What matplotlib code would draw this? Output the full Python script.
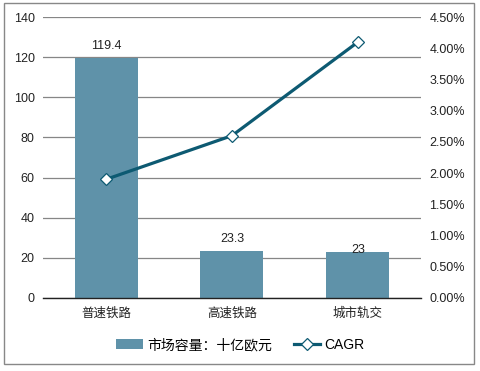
import matplotlib
matplotlib.use("Agg")
import matplotlib.pyplot as plt
from matplotlib.patches import Rectangle
from matplotlib.ticker import FuncFormatter

plt.rcParams['font.family'] = ['Liberation Sans', 'Noto Sans CJK SC', 'DejaVu Sans']

# data
categories = ['普速铁路', '高速铁路', '城市轨交']
market_size = [119.4, 23.3, 23]
cagr = [1.9, 2.6, 4.1]
bar_labels = ['119.4', '23.3', '23']

bar_color = '#5f92a9'
line_color = '#0d5a72'
grid_color = '#868686'

fig = plt.figure(figsize=(4.81, 3.71), dpi=100)
ax = fig.add_axes([43 / 481, 1 - 298 / 371, 378 / 481, 281 / 371])
ax2 = ax.twinx()

x = list(range(len(categories)))
bars = ax.bar(x, market_size, width=0.5, color=bar_color, zorder=2)
ax.set_xlim(-0.5, 2.5)
ax.set_ylim(0, 140)
ax.set_yticks(range(0, 141, 20))
ax.yaxis.grid(True, color=grid_color, linewidth=0.9, zorder=0)
ax.set_axisbelow(True)
ax.set_xticks(x)
ax.set_xticklabels(categories, fontsize=9)
ax.tick_params(axis='both', length=0, labelsize=9, colors='#222222', pad=6)
ax.tick_params(axis='x', pad=7)
for s in ['top', 'left', 'right']:
    ax.spines[s].set_visible(False)
ax.spines['bottom'].set_color('#222222')
ax.spines['bottom'].set_linewidth(1.0)

# value labels
offsets = [3, 3, -2]
for xi, v, lab, off in zip(x, market_size, bar_labels, offsets):
    ax.text(xi, v + off, lab, ha='center', va='bottom', fontsize=9,
            color='#222222', zorder=5)

line, = ax2.plot(x, cagr, color=line_color, linewidth=2.3, marker='D',
                 markersize=6.5, markerfacecolor='white',
                 markeredgecolor=line_color, markeredgewidth=0.9,
                 zorder=4)
ax2.set_ylim(0, 4.5)
ax2.set_yticks([i * 0.5 for i in range(10)])
ax2.yaxis.set_major_formatter(FuncFormatter(lambda v, p: f'{v:.2f}%'))
ax2.tick_params(axis='y', length=0, labelsize=9, colors='#222222', pad=6)
for s in ['top', 'left', 'right', 'bottom']:
    ax2.spines[s].set_visible(False)

fig.legend([bars, line], ['市场容量：十亿欧元', 'CAGR'], loc='center',
           bbox_to_anchor=(0.5, 1 - 345 / 371), ncol=2, frameon=False,
           fontsize=10, handlelength=1.9, handleheight=0.8, columnspacing=1.6,
           handletextpad=0.3)

# outer border
fig.patches.append(Rectangle((4 / 481, 1 - 364 / 371), 470 / 481, 361 / 371,
                             transform=fig.transFigure, fill=False,
                             edgecolor='#888888', linewidth=1.0))

fig.savefig('out.png', dpi=100)
